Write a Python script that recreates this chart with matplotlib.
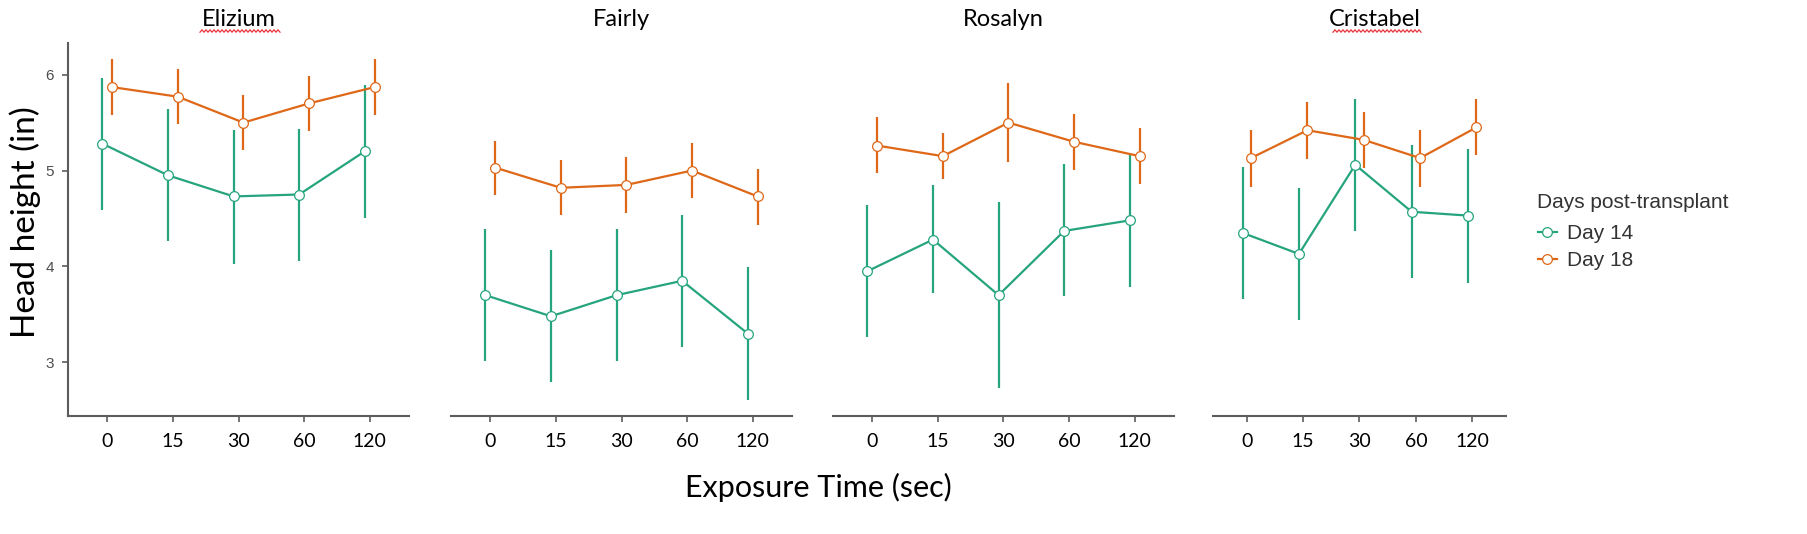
import numpy as np
import matplotlib
matplotlib.use('Agg')
import matplotlib.pyplot as plt
from matplotlib.lines import Line2D

plt.rcParams['font.family'] = ['Liberation Sans', 'DejaVu Sans']

# data
panels = ['Elizium', 'Fairly', 'Rosalyn', 'Cristabel']
times = ['0', '15', '30', '60', '120']
series = ['Day 14', 'Day 18']

d14_mean = {
    'Elizium':   [5.28, 4.95, 4.73, 4.75, 5.20],
    'Fairly':    [3.70, 3.48, 3.70, 3.85, 3.30],
    'Rosalyn':   [3.95, 4.28, 3.70, 4.37, 4.48],
    'Cristabel': [4.35, 4.13, 5.06, 4.57, 4.53],
}
d14_lo = {
    'Elizium':   [4.59, 4.27, 4.03, 4.06, 4.51],
    'Fairly':    [3.01, 2.79, 3.01, 3.16, 2.61],
    'Rosalyn':   [3.26, 3.72, 2.73, 3.69, 3.79],
    'Cristabel': [3.66, 3.44, 4.37, 3.88, 3.83],
}
d14_hi = {
    'Elizium':   [5.97, 5.64, 5.42, 5.43, 5.89],
    'Fairly':    [4.39, 4.17, 4.39, 4.54, 3.99],
    'Rosalyn':   [4.64, 4.85, 4.67, 5.07, 5.17],
    'Cristabel': [5.04, 4.82, 5.75, 5.27, 5.22],
}
d18_mean = {
    'Elizium':   [5.87, 5.77, 5.50, 5.70, 5.87],
    'Fairly':    [5.03, 4.82, 4.85, 5.00, 4.73],
    'Rosalyn':   [5.26, 5.15, 5.50, 5.30, 5.15],
    'Cristabel': [5.13, 5.42, 5.32, 5.13, 5.45],
}
d18_lo = {
    'Elizium':   [5.58, 5.49, 5.21, 5.41, 5.58],
    'Fairly':    [4.74, 4.54, 4.56, 4.71, 4.43],
    'Rosalyn':   [4.97, 4.91, 5.09, 5.01, 4.86],
    'Cristabel': [4.83, 5.12, 5.03, 4.83, 5.16],
}
d18_hi = {
    'Elizium':   [6.16, 6.06, 5.79, 5.99, 6.16],
    'Fairly':    [5.31, 5.11, 5.14, 5.29, 5.02],
    'Rosalyn':   [5.56, 5.39, 5.91, 5.59, 5.44],
    'Cristabel': [5.42, 5.71, 5.61, 5.42, 5.75],
}

green = '#25a47d'
orange = '#de6818'
axcol = '#5c5c5c'

W, H = 1808, 534
fig = plt.figure(figsize=(W/100, H/100), dpi=100)

# panel boxes in pixels (left, right); shared top/bottom
boxes = [(68, 409), (451, 792), (833, 1174), (1213, 1506)]
top, bot = 43, 416
title_x = [0.5, 0.5, 0.5, 0.552]
dodge = 0.075
x = np.arange(len(times))

for k, (name, (l, r)) in enumerate(zip(panels, boxes)):
    ax = fig.add_axes([l/W, 1 - bot/H, (r - l)/W, (bot - top)/H])
    for mean, lo, hi, col, off in [(d14_mean, d14_lo, d14_hi, green, -dodge),
                                   (d18_mean, d18_lo, d18_hi, orange, dodge)]:
        m = np.array(mean[name])
        yerr = [m - np.array(lo[name]), np.array(hi[name]) - m]
        ax.errorbar(x + off, m, yerr=yerr, color=col, lw=1.6, elinewidth=1.6,
                    capsize=0, marker='o', ms=7, mfc='white', mec=col, mew=0.9)
    ax.set_xlim(-0.6, 4.6)
    ax.set_ylim(2.44, 6.33)
    ax.set_xticks(x)
    ax.set_xticklabels(times, family=['Lato', 'DejaVu Sans'], fontsize=14, color='black')
    ax.tick_params(axis='x', length=4, width=1.2, color=axcol, pad=8)
    for s in ['top', 'right']:
        ax.spines[s].set_visible(False)
    ax.spines['bottom'].set_color(axcol)
    ax.spines['bottom'].set_linewidth(1.5)
    if k == 0:
        ax.set_yticks([3, 4, 5, 6])
        ax.tick_params(axis='y', length=4, width=1.2, color=axcol, labelsize=11,
                       labelcolor='#4d4d4d', pad=6)
        ax.spines['left'].set_color(axcol)
        ax.spines['left'].set_linewidth(1.5)
    else:
        ax.spines['left'].set_visible(False)
        ax.set_yticks([])
    ax.text(title_x[k], 1 + 24/(bot - top), name, transform=ax.transAxes,
            ha='center', va='center', fontsize=17, family=['Lato', 'DejaVu Sans'])

# spell-check squiggles under two titles
def squiggle(x0, x1, y):
    xs = np.arange(x0, x1 + 1, 2.0)
    ys = y + np.where(np.arange(len(xs)) % 2 == 0, 1.2, -1.2)
    fig.add_artist(Line2D(xs/W, 1 - ys/H, transform=fig.transFigure,
                          color='#e8353a', lw=0.9))

squiggle(200, 280, 31)
squiggle(1333, 1422, 31)

fig.text(818/W, 1 - 487/H, 'Exposure Time (sec)', ha='center', va='center',
         fontsize=22, family=['Lato', 'DejaVu Sans'])
fig.text(25/W, 1 - 222/H, 'Head height (in)', ha='center', va='center',
         rotation=90, fontsize=24, family=['Lato', 'DejaVu Sans'])

# legend: title as its own text, entries below
fig.text(1537/W, 1 - 202/H, 'Days post-transplant', ha='left', va='center',
         fontsize=15, color='#333333')
handles = [Line2D([], [], color=c, lw=1.6, marker='o', ms=7, mfc='white', mec=c, mew=0.9)
           for c in (green, orange)]
leg = fig.legend(handles, series, loc='upper left',
                 bbox_to_anchor=(1538/W, 1 - 224/H), frameon=False, fontsize=15,
                 handlelength=0.9, handletextpad=0.5, borderpad=0, borderaxespad=0,
                 labelspacing=0.38)
for t in leg.get_texts():
    t.set_color('#333333')

fig.savefig('out.png', dpi=100)
